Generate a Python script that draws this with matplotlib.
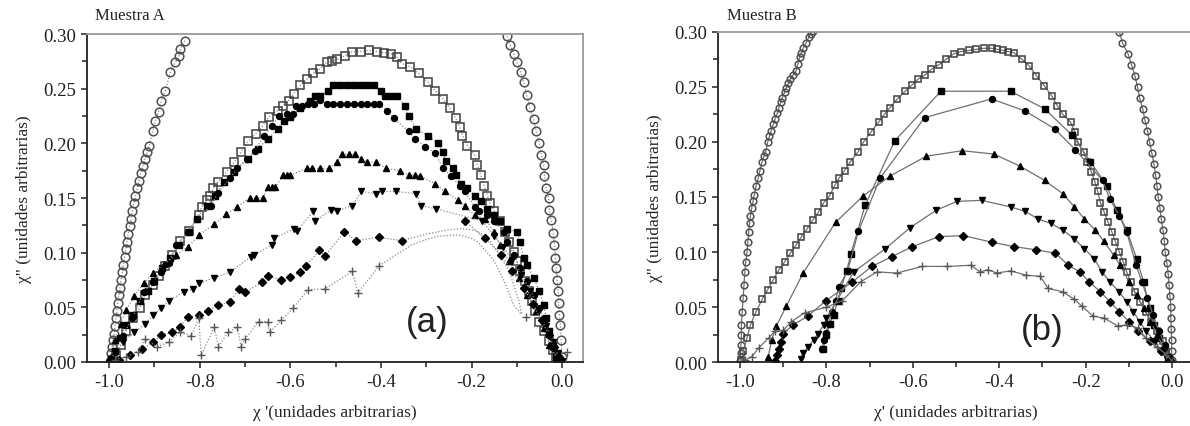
import numpy as np
import matplotlib
matplotlib.use("Agg")
import matplotlib.pyplot as plt
from matplotlib.ticker import MultipleLocator, FormatStrFormatter

# ---------------- Muestra A (x, y) ----------------
a_circ_left = [(-0.997, 0.002), (-0.995, 0.008), (-0.993, 0.014), (-0.991, 0.020), (-0.989, 0.026),
               (-0.987, 0.033), (-0.985, 0.040), (-0.983, 0.047), (-0.981, 0.054), (-0.979, 0.061),
               (-0.976, 0.068), (-0.974, 0.075), (-0.971, 0.082), (-0.969, 0.089), (-0.966, 0.096),
               (-0.963, 0.103), (-0.961, 0.110), (-0.958, 0.117), (-0.955, 0.124), (-0.952, 0.131),
               (-0.949, 0.138), (-0.946, 0.145), (-0.942, 0.152), (-0.938, 0.159), (-0.934, 0.166),
               (-0.930, 0.173), (-0.926, 0.179), (-0.921, 0.186), (-0.916, 0.192), (-0.911, 0.198),
               (-0.904, 0.211), (-0.898, 0.220), (-0.891, 0.229), (-0.885, 0.239), (-0.876, 0.248),
               (-0.865, 0.265), (-0.854, 0.274), (-0.846, 0.280), (-0.843, 0.286), (-0.833, 0.294)]
a_circ_right = [(-0.122, 0.298), (-0.115, 0.290), (-0.107, 0.282), (-0.100, 0.274), (-0.091, 0.265),
                (-0.085, 0.256), (-0.078, 0.244), (-0.072, 0.233), (-0.063, 0.222), (-0.057, 0.211),
                (-0.050, 0.200), (-0.046, 0.189), (-0.041, 0.180), (-0.039, 0.170), (-0.035, 0.159),
                (-0.030, 0.150), (-0.028, 0.139), (-0.024, 0.130), (-0.020, 0.118), (-0.017, 0.107),
                (-0.015, 0.095), (-0.013, 0.086), (-0.011, 0.075), (-0.009, 0.065), (-0.008, 0.054),
                (-0.006, 0.043), (-0.004, 0.034), (-0.002, 0.020), (0.0, 0.005)]
a_open_sq = [(-0.991, 0.002), (-0.985, 0.006), (-0.974, 0.016), (-0.963, 0.028), (-0.948, 0.040),
             (-0.933, 0.049), (-0.920, 0.061), (-0.904, 0.070), (-0.889, 0.079), (-0.876, 0.088),
             (-0.861, 0.098), (-0.843, 0.111), (-0.824, 0.120), (-0.802, 0.134), (-0.796, 0.142),
             (-0.785, 0.148), (-0.778, 0.152), (-0.770, 0.159), (-0.759, 0.165), (-0.741, 0.174),
             (-0.724, 0.183), (-0.709, 0.192), (-0.693, 0.202), (-0.676, 0.209), (-0.661, 0.216),
             (-0.648, 0.224), (-0.628, 0.230), (-0.617, 0.234), (-0.604, 0.239), (-0.593, 0.245),
             (-0.578, 0.253), (-0.563, 0.259), (-0.550, 0.264), (-0.535, 0.268), (-0.520, 0.274),
             (-0.507, 0.275), (-0.496, 0.277), (-0.480, 0.280), (-0.463, 0.284), (-0.443, 0.284),
             (-0.426, 0.285), (-0.409, 0.284), (-0.393, 0.283), (-0.378, 0.282), (-0.365, 0.279),
             (-0.354, 0.273), (-0.335, 0.270), (-0.317, 0.264), (-0.296, 0.256), (-0.280, 0.248),
             (-0.263, 0.241), (-0.248, 0.232), (-0.235, 0.223), (-0.226, 0.215), (-0.220, 0.207),
             (-0.209, 0.198), (-0.193, 0.189), (-0.187, 0.180), (-0.180, 0.171), (-0.172, 0.161),
             (-0.165, 0.152), (-0.159, 0.145), (-0.150, 0.138), (-0.137, 0.129), (-0.126, 0.119),
             (-0.117, 0.110), (-0.107, 0.101), (-0.100, 0.092), (-0.093, 0.083), (-0.083, 0.074),
             (-0.074, 0.065), (-0.067, 0.056), (-0.061, 0.047), (-0.050, 0.037), (-0.039, 0.028),
             (-0.028, 0.019), (-0.020, 0.011), (-0.013, 0.005), (-0.009, 0.002)]
a_fill_sq = [(-0.996, 0.002), (-0.987, 0.010), (-0.976, 0.022), (-0.963, 0.034), (-0.948, 0.043),
             (-0.933, 0.056), (-0.915, 0.065), (-0.900, 0.074), (-0.883, 0.086), (-0.865, 0.095),
             (-0.846, 0.107), (-0.824, 0.119), (-0.807, 0.131), (-0.785, 0.143), (-0.767, 0.152),
             (-0.746, 0.165), (-0.724, 0.174), (-0.693, 0.186), (-0.672, 0.195), (-0.650, 0.204),
             (-0.628, 0.213), (-0.615, 0.220), (-0.600, 0.224), (-0.578, 0.232), (-0.557, 0.239),
             (-0.545, 0.243), (-0.535, 0.243), (-0.517, 0.248), (-0.505, 0.253), (-0.490, 0.253),
             (-0.475, 0.253), (-0.460, 0.253), (-0.445, 0.253), (-0.430, 0.253), (-0.415, 0.253),
             (-0.400, 0.248), (-0.390, 0.243), (-0.378, 0.243), (-0.365, 0.243), (-0.346, 0.234),
             (-0.339, 0.225), (-0.322, 0.213), (-0.296, 0.207), (-0.274, 0.200), (-0.263, 0.192),
             (-0.257, 0.184), (-0.241, 0.177), (-0.235, 0.171), (-0.224, 0.163), (-0.209, 0.159),
             (-0.193, 0.152), (-0.180, 0.147), (-0.165, 0.140), (-0.150, 0.134), (-0.137, 0.129),
             (-0.122, 0.122), (-0.100, 0.119), (-0.093, 0.110), (-0.085, 0.095), (-0.078, 0.089),
             (-0.063, 0.077), (-0.050, 0.065), (-0.041, 0.052), (-0.035, 0.040), (-0.028, 0.028),
             (-0.020, 0.016), (-0.013, 0.006), (-0.009, 0.002)]
a_fill_ci = [(-1.000, 0.001), (-0.987, 0.009), (-0.970, 0.024), (-0.949, 0.040), (-0.924, 0.064),
             (-0.903, 0.073), (-0.886, 0.082), (-0.869, 0.091), (-0.852, 0.107), (-0.827, 0.119),
             (-0.806, 0.131), (-0.776, 0.143), (-0.759, 0.155), (-0.734, 0.168), (-0.717, 0.177),
             (-0.696, 0.186), (-0.679, 0.193), (-0.658, 0.207), (-0.641, 0.216), (-0.624, 0.225),
             (-0.608, 0.227), (-0.595, 0.227), (-0.587, 0.234), (-0.574, 0.234), (-0.562, 0.236),
             (-0.548, 0.236), (-0.535, 0.240), (-0.520, 0.236), (-0.505, 0.236), (-0.490, 0.236),
             (-0.475, 0.236), (-0.460, 0.236), (-0.445, 0.236), (-0.430, 0.236), (-0.415, 0.236),
             (-0.404, 0.236), (-0.387, 0.230), (-0.372, 0.223), (-0.339, 0.211), (-0.324, 0.204),
             (-0.302, 0.197), (-0.280, 0.191), (-0.263, 0.177), (-0.245, 0.170), (-0.226, 0.161),
             (-0.215, 0.156), (-0.193, 0.142), (-0.183, 0.138), (-0.165, 0.134), (-0.150, 0.129),
             (-0.128, 0.119), (-0.122, 0.110), (-0.107, 0.098), (-0.093, 0.086), (-0.078, 0.074),
             (-0.063, 0.061), (-0.050, 0.049), (-0.039, 0.037), (-0.030, 0.025), (-0.020, 0.013),
             (-0.013, 0.004)]
a_tri_up = [(-0.996, 0.005), (-0.987, 0.020), (-0.975, 0.035), (-0.962, 0.048), (-0.945, 0.060),
            (-0.924, 0.072), (-0.903, 0.081), (-0.878, 0.090), (-0.852, 0.098), (-0.827, 0.105),
            (-0.802, 0.116), (-0.768, 0.126), (-0.743, 0.135), (-0.717, 0.142), (-0.690, 0.150),
            (-0.675, 0.150), (-0.660, 0.150), (-0.650, 0.160), (-0.640, 0.160), (-0.633, 0.160),
            (-0.616, 0.171), (-0.608, 0.171), (-0.600, 0.171), (-0.563, 0.177), (-0.553, 0.177),
            (-0.535, 0.177), (-0.515, 0.177), (-0.498, 0.183), (-0.485, 0.190), (-0.470, 0.190),
            (-0.457, 0.190), (-0.443, 0.186), (-0.430, 0.183), (-0.411, 0.183), (-0.389, 0.177),
            (-0.357, 0.175), (-0.339, 0.171), (-0.324, 0.171), (-0.313, 0.170), (-0.280, 0.163),
            (-0.259, 0.156), (-0.230, 0.148), (-0.215, 0.143), (-0.193, 0.134), (-0.170, 0.131),
            (-0.150, 0.119), (-0.137, 0.107), (-0.117, 0.092), (-0.096, 0.077), (-0.078, 0.061),
            (-0.057, 0.047), (-0.041, 0.031), (-0.028, 0.016), (-0.013, 0.004)]
a_tri_dn = [(-0.996, 0.003), (-0.987, 0.009), (-0.970, 0.018), (-0.945, 0.027), (-0.920, 0.035),
            (-0.903, 0.043), (-0.886, 0.049), (-0.869, 0.056), (-0.835, 0.064), (-0.814, 0.067),
            (-0.802, 0.072), (-0.768, 0.077), (-0.734, 0.082), (-0.688, 0.096), (-0.680, 0.098),
            (-0.641, 0.107), (-0.636, 0.113), (-0.591, 0.122), (-0.585, 0.120), (-0.549, 0.138),
            (-0.545, 0.129), (-0.510, 0.139), (-0.498, 0.138), (-0.464, 0.143), (-0.443, 0.156),
            (-0.411, 0.154), (-0.398, 0.156), (-0.367, 0.156), (-0.322, 0.154), (-0.311, 0.143),
            (-0.278, 0.140), (-0.176, 0.129), (-0.150, 0.115), (-0.130, 0.105), (-0.110, 0.093),
            (-0.090, 0.080), (-0.070, 0.065), (-0.050, 0.048), (-0.035, 0.033), (-0.020, 0.018),
            (-0.010, 0.008), (0.0, 0.001)]
a_dia = [(-0.979, 0.002), (-0.954, 0.006), (-0.928, 0.012), (-0.903, 0.018), (-0.885, 0.025),
         (-0.861, 0.027), (-0.844, 0.032), (-0.827, 0.041), (-0.802, 0.043), (-0.781, 0.047),
         (-0.759, 0.052), (-0.734, 0.055), (-0.713, 0.067), (-0.700, 0.064), (-0.662, 0.073),
         (-0.650, 0.079), (-0.620, 0.075), (-0.600, 0.078), (-0.578, 0.082), (-0.565, 0.088),
         (-0.536, 0.102), (-0.523, 0.097), (-0.481, 0.119), (-0.456, 0.111), (-0.405, 0.114),
         (-0.354, 0.111)]
a_dia_right = [(-0.215, 0.129), (-0.170, 0.113), (-0.135, 0.098), (-0.110, 0.083), (-0.085, 0.068),
               (-0.065, 0.053), (-0.045, 0.038), (-0.030, 0.025), (-0.018, 0.014), (-0.008, 0.005)]
a_plus = [(-0.987, 0.002), (-0.962, 0.005), (-0.937, 0.009), (-0.920, 0.021), (-0.895, 0.014),
          (-0.869, 0.018), (-0.844, 0.027), (-0.819, 0.024), (-0.802, 0.040), (-0.797, 0.006),
          (-0.768, 0.032), (-0.759, 0.014), (-0.738, 0.027), (-0.717, 0.032), (-0.709, 0.014),
          (-0.700, 0.021), (-0.670, 0.037), (-0.650, 0.037), (-0.646, 0.027), (-0.620, 0.038),
          (-0.595, 0.049), (-0.561, 0.066), (-0.523, 0.067), (-0.463, 0.083), (-0.451, 0.063),
          (-0.404, 0.088)]
a_plus_right = [(-0.080, 0.041), (0.010, 0.009)]
a_curve_hi = [(-0.354, 0.111), (-0.300, 0.117), (-0.250, 0.121), (-0.220, 0.122), (-0.190, 0.120),
              (-0.165, 0.114), (-0.143, 0.101), (-0.127, 0.090), (-0.117, 0.083), (-0.105, 0.068),
              (-0.095, 0.055), (-0.089, 0.043)]
a_curve_lo = [(-0.404, 0.088), (-0.370, 0.097), (-0.333, 0.107), (-0.300, 0.112), (-0.274, 0.115),
              (-0.245, 0.116), (-0.224, 0.116), (-0.200, 0.113), (-0.187, 0.110), (-0.165, 0.100),
              (-0.150, 0.092), (-0.128, 0.074), (-0.107, 0.052), (-0.089, 0.043)]

# ---------------- Muestra B ----------------
b_circ_left = [(-1.000, 0.001), (-0.999, 0.008), (-0.998, 0.016), (-0.997, 0.025), (-0.997, 0.034),
               (-0.995, 0.046), (-0.993, 0.058), (-0.991, 0.070), (-0.989, 0.082), (-0.987, 0.091),
               (-0.984, 0.100), (-0.982, 0.109), (-0.980, 0.118), (-0.978, 0.126), (-0.976, 0.133),
               (-0.973, 0.140), (-0.970, 0.146), (-0.967, 0.152), (-0.963, 0.160), (-0.958, 0.167),
               (-0.954, 0.174), (-0.949, 0.182), (-0.945, 0.187), (-0.941, 0.191), (-0.936, 0.200),
               (-0.932, 0.205), (-0.928, 0.210), (-0.923, 0.216), (-0.919, 0.221), (-0.914, 0.226),
               (-0.910, 0.231), (-0.906, 0.236), (-0.902, 0.240), (-0.897, 0.245), (-0.893, 0.249),
               (-0.888, 0.253), (-0.884, 0.257), (-0.877, 0.261), (-0.871, 0.264), (-0.866, 0.271),
               (-0.862, 0.277), (-0.858, 0.281), (-0.854, 0.285), (-0.847, 0.290), (-0.841, 0.295),
               (-0.836, 0.298), (-0.832, 0.301)]
b_circ_right = [(-0.122, 0.300), (-0.115, 0.290), (-0.102, 0.280), (-0.094, 0.270), (-0.086, 0.260),
                (-0.080, 0.250), (-0.075, 0.240), (-0.068, 0.230), (-0.063, 0.220), (-0.057, 0.210),
                (-0.052, 0.200), (-0.047, 0.190), (-0.042, 0.180), (-0.038, 0.170), (-0.035, 0.160),
                (-0.032, 0.150), (-0.028, 0.140), (-0.025, 0.130), (-0.021, 0.120), (-0.018, 0.110),
                (-0.016, 0.100), (-0.012, 0.090), (-0.009, 0.080), (-0.007, 0.070), (-0.005, 0.060),
                (-0.003, 0.050), (-0.003, 0.040), (-0.002, 0.030), (-0.001, 0.020), (-0.001, 0.010),
                (0.0, 0.002)]
b_open_sq = [(-0.997, 0.002), (-0.993, 0.010), (-0.984, 0.022), (-0.976, 0.034), (-0.963, 0.046),
             (-0.949, 0.057), (-0.936, 0.066), (-0.923, 0.075), (-0.910, 0.084), (-0.897, 0.091),
             (-0.884, 0.099), (-0.871, 0.106), (-0.858, 0.114), (-0.845, 0.121), (-0.832, 0.129),
             (-0.819, 0.136), (-0.806, 0.145), (-0.793, 0.151), (-0.780, 0.161), (-0.771, 0.167),
             (-0.758, 0.174), (-0.745, 0.182), (-0.727, 0.191), (-0.714, 0.200), (-0.697, 0.209),
             (-0.679, 0.218), (-0.666, 0.225), (-0.653, 0.231), (-0.636, 0.239), (-0.618, 0.246),
             (-0.601, 0.252), (-0.588, 0.257), (-0.571, 0.261), (-0.557, 0.266), (-0.540, 0.270),
             (-0.523, 0.275), (-0.505, 0.280), (-0.488, 0.282), (-0.470, 0.283), (-0.453, 0.284),
             (-0.436, 0.285), (-0.418, 0.285), (-0.405, 0.284), (-0.392, 0.283), (-0.380, 0.282),
             (-0.366, 0.281), (-0.348, 0.275), (-0.331, 0.269), (-0.314, 0.260), (-0.296, 0.251),
             (-0.279, 0.242), (-0.266, 0.233), (-0.253, 0.225), (-0.235, 0.218), (-0.225, 0.209),
             (-0.218, 0.200), (-0.205, 0.191), (-0.196, 0.182), (-0.187, 0.173), (-0.179, 0.164),
             (-0.172, 0.155), (-0.166, 0.145), (-0.157, 0.136), (-0.148, 0.127), (-0.139, 0.118),
             (-0.131, 0.109), (-0.122, 0.100), (-0.113, 0.091), (-0.105, 0.082), (-0.096, 0.073),
             (-0.087, 0.064), (-0.074, 0.055), (-0.061, 0.046), (-0.048, 0.037), (-0.035, 0.028),
             (-0.022, 0.019), (-0.013, 0.010), (-0.004, 0.002)]
b_fill_sq = [(-0.808, 0.012), (-0.800, 0.025), (-0.793, 0.035), (-0.783, 0.043), (-0.774, 0.056),
             (-0.767, 0.067), (-0.753, 0.083), (-0.744, 0.098), (-0.710, 0.143), (-0.642, 0.201),
             (-0.535, 0.246), (-0.374, 0.246), (-0.295, 0.230), (-0.231, 0.206), (-0.189, 0.182),
             (-0.151, 0.160), (-0.128, 0.138), (-0.105, 0.120), (-0.082, 0.094), (-0.066, 0.073),
             (-0.052, 0.049), (-0.043, 0.034), (-0.030, 0.022), (-0.018, 0.010), (-0.009, 0.002)]
b_fill_ci = [(-0.810, 0.012), (-0.806, 0.020), (-0.801, 0.027), (-0.795, 0.035), (-0.787, 0.046),
             (-0.779, 0.056), (-0.772, 0.068), (-0.751, 0.083), (-0.726, 0.119), (-0.676, 0.167),
             (-0.573, 0.222), (-0.418, 0.239), (-0.340, 0.228), (-0.272, 0.212), (-0.224, 0.193),
             (-0.161, 0.165), (-0.144, 0.148), (-0.122, 0.133), (-0.105, 0.118), (-0.083, 0.088),
             (-0.070, 0.073), (-0.057, 0.058), (-0.044, 0.043), (-0.030, 0.028), (-0.017, 0.016),
             (-0.007, 0.005)]
b_tri_up = [(-0.935, 0.005), (-0.927, 0.020), (-0.916, 0.033), (-0.893, 0.051), (-0.854, 0.081),
            (-0.779, 0.127), (-0.715, 0.151), (-0.653, 0.169), (-0.569, 0.187), (-0.486, 0.192),
            (-0.413, 0.189), (-0.352, 0.178), (-0.295, 0.165), (-0.253, 0.153), (-0.226, 0.141),
            (-0.203, 0.130), (-0.178, 0.120), (-0.158, 0.110), (-0.135, 0.097), (-0.120, 0.088),
            (-0.100, 0.073), (-0.082, 0.061), (-0.066, 0.049), (-0.050, 0.037), (-0.034, 0.025),
            (-0.020, 0.013), (-0.009, 0.002)]
b_tri_dn = [(-0.860, 0.003), (-0.854, 0.008), (-0.843, 0.014), (-0.830, 0.020), (-0.820, 0.026),
            (-0.806, 0.034), (-0.800, 0.040), (-0.737, 0.082), (-0.664, 0.103), (-0.607, 0.122),
            (-0.546, 0.138), (-0.498, 0.146), (-0.441, 0.147), (-0.374, 0.141), (-0.340, 0.137),
            (-0.310, 0.130), (-0.280, 0.126), (-0.253, 0.120), (-0.226, 0.112), (-0.203, 0.103),
            (-0.180, 0.094), (-0.162, 0.082), (-0.144, 0.073), (-0.123, 0.064), (-0.105, 0.055),
            (-0.090, 0.046), (-0.075, 0.037), (-0.060, 0.028), (-0.040, 0.019), (-0.025, 0.010),
            (-0.012, 0.003)]
b_dia = [(-0.919, 0.001), (-0.915, 0.007), (-0.911, 0.012), (-0.906, 0.018), (-0.900, 0.026),
         (-0.877, 0.034), (-0.843, 0.042), (-0.801, 0.056), (-0.740, 0.073), (-0.695, 0.087),
         (-0.648, 0.096), (-0.601, 0.105), (-0.540, 0.114), (-0.483, 0.115), (-0.418, 0.109),
         (-0.366, 0.105), (-0.314, 0.102), (-0.270, 0.099), (-0.240, 0.088), (-0.213, 0.082),
         (-0.192, 0.073), (-0.166, 0.064), (-0.144, 0.055), (-0.122, 0.046), (-0.100, 0.037),
         (-0.078, 0.028), (-0.052, 0.019), (-0.026, 0.010), (-0.004, 0.002)]
b_plus = [(-0.989, 0.002), (-0.973, 0.005), (-0.957, 0.013), (-0.934, 0.022), (-0.920, 0.028),
          (-0.900, 0.029), (-0.881, 0.037), (-0.850, 0.045), (-0.800, 0.050), (-0.763, 0.056),
          (-0.721, 0.073), (-0.683, 0.082), (-0.637, 0.081), (-0.578, 0.087), (-0.520, 0.087),
          (-0.466, 0.088), (-0.444, 0.082), (-0.427, 0.084), (-0.405, 0.081), (-0.374, 0.083),
          (-0.338, 0.079), (-0.305, 0.078), (-0.287, 0.067), (-0.253, 0.064), (-0.226, 0.057),
          (-0.209, 0.051), (-0.183, 0.042), (-0.157, 0.040), (-0.126, 0.033), (-0.105, 0.034),
          (-0.078, 0.031), (-0.061, 0.022), (-0.035, 0.014), (-0.013, 0.007), (0.0, 0.001)]

x_ticks = [-1.0, -0.8, -0.6, -0.4, -0.2, 0.0]
y_ticks = [0.00, 0.05, 0.10, 0.15, 0.20, 0.25, 0.30]

SERIF = ["Liberation Serif", "DejaVu Serif"]
SANS = ["Liberation Sans", "DejaVu Sans"]

# open markers are hollow so the joining line shows through them, as in the scan
OPEN_CI = dict(marker="o", mfc="none", mec="#505050", mew=1.1)
OPEN_SQ = dict(marker="s", mfc="none", mec="#404040", mew=1.1)
FILL_SQ = dict(marker="s", mfc="black", mec="black", ms=4.2)
FILL_CI = dict(marker="o", mfc="black", mec="black", ms=4.3)
TRI_UP = dict(marker="^", mfc="black", mec="black", ms=5.0)
TRI_DN = dict(marker="v", mfc="black", mec="black", ms=5.0)
DIA = dict(marker="D", mfc="black", mec="black", ms=3.8)
PLUS = dict(marker="+", mfc="none", mec="#555555", mew=1.0, ms=5.5)


def draw(ax, pts, ls, lc, **kw):
    pts = np.array(pts)
    ax.plot(pts[:, 0], pts[:, 1], linestyle=ls, color=lc, lw=0.9, **kw)


def style_axes(ax, xlim):
    ax.set_xlim(*xlim)
    ax.set_ylim(0, 0.30)
    ax.set_xticks(x_ticks)
    ax.set_yticks(y_ticks)
    ax.xaxis.set_minor_locator(MultipleLocator(0.1))
    ax.yaxis.set_minor_locator(MultipleLocator(0.025))
    ax.xaxis.set_major_formatter(FormatStrFormatter("%.1f"))
    ax.yaxis.set_major_formatter(FormatStrFormatter("%.2f"))
    ax.tick_params(which="both", direction="out", length=4.5, width=1.1, colors="#222222",
                   labelsize=13.5, top=False, right=False)
    ax.tick_params(which="minor", length=3.5)
    for lab in ax.get_xticklabels() + ax.get_yticklabels():
        lab.set_family(SERIF)
    for side in ["left", "bottom"]:
        ax.spines[side].set_color("#222222")
        ax.spines[side].set_linewidth(1.3)
    for side in ["top", "right"]:
        ax.spines[side].set_color("#9a9a9a")
        ax.spines[side].set_linewidth(1.3)


fig = plt.figure(figsize=(11.9, 4.27), dpi=100)

# ---------------- panel (a) ----------------
ax1 = fig.add_axes([0.0731, 0.1499, 0.4168, 0.7681])
dot = (0, (1, 1.5))
lc_a = "#8a8a8a"
draw(ax1, a_circ_left, dot, lc_a, ms=6.2, **OPEN_CI)
draw(ax1, a_circ_right, dot, lc_a, ms=6.2, **OPEN_CI)
draw(ax1, a_curve_hi, dot, lc_a)
draw(ax1, a_curve_lo, dot, lc_a)
draw(ax1, a_open_sq, dot, lc_a, ms=5.8, **OPEN_SQ)
draw(ax1, a_fill_sq, dot, lc_a, **FILL_SQ)
draw(ax1, a_fill_ci, dot, lc_a, **FILL_CI)
draw(ax1, a_tri_up, dot, lc_a, **TRI_UP)
draw(ax1, a_tri_dn, dot, lc_a, **TRI_DN)
draw(ax1, a_dia, dot, lc_a, **DIA)
draw(ax1, a_dia_right, dot, lc_a, **DIA)
draw(ax1, a_plus, dot, lc_a, **PLUS)
draw(ax1, a_plus_right, "none", lc_a, **PLUS)
style_axes(ax1, (-1.049, 0.046))
ax1.set_xlabel("χ '(unidades arbitrarias)", family=SERIF, fontsize=12.5, color="#222222", labelpad=10)
ax1.set_ylabel('χ" (unidades arbitrarias)', family=SERIF, fontsize=12.5, color="#222222", labelpad=8)
ax1.text(-0.298, 0.037, "(a)", family=SANS, fontsize=25, ha="center", va="center", color="#222222")
fig.text(0.080, 0.962, "Muestra A", family=SERIF, fontsize=12, va="center", color="#222222")

# ---------------- panel (b) ----------------
ax2 = fig.add_axes([0.6034, 0.1492, 0.3997, 0.7742])
lc_b = "#707070"
draw(ax2, b_circ_left, "-", lc_b, ms=4.8, **OPEN_CI)
draw(ax2, b_circ_right, "-", lc_b, ms=4.8, **OPEN_CI)
draw(ax2, b_open_sq, "-", lc_b, ms=5.0, **OPEN_SQ)
draw(ax2, b_fill_sq, "-", lc_b, **FILL_SQ)
draw(ax2, b_fill_ci, "-", lc_b, **FILL_CI)
draw(ax2, b_tri_up, "-", lc_b, **TRI_UP)
draw(ax2, b_tri_dn, "-", lc_b, **TRI_DN)
draw(ax2, b_dia, "-", lc_b, **DIA)
draw(ax2, b_plus, "-", lc_b, **PLUS)
style_axes(ax2, (-1.051, 0.05))
ax2.spines["right"].set_visible(False)
ax2.set_xlabel("χ' (unidades arbitrarias)", family=SERIF, fontsize=12.5, color="#222222", labelpad=10)
ax2.set_ylabel('χ" (unidades arbitrarias)', family=SERIF, fontsize=12.5, color="#222222", labelpad=8)
ax2.text(-0.300, 0.030, "(b)", family=SANS, fontsize=25, ha="center", va="center", color="#222222")
fig.text(0.611, 0.962, "Muestra B", family=SERIF, fontsize=12, va="center", color="#222222")

fig.savefig("out.png", dpi=100)
